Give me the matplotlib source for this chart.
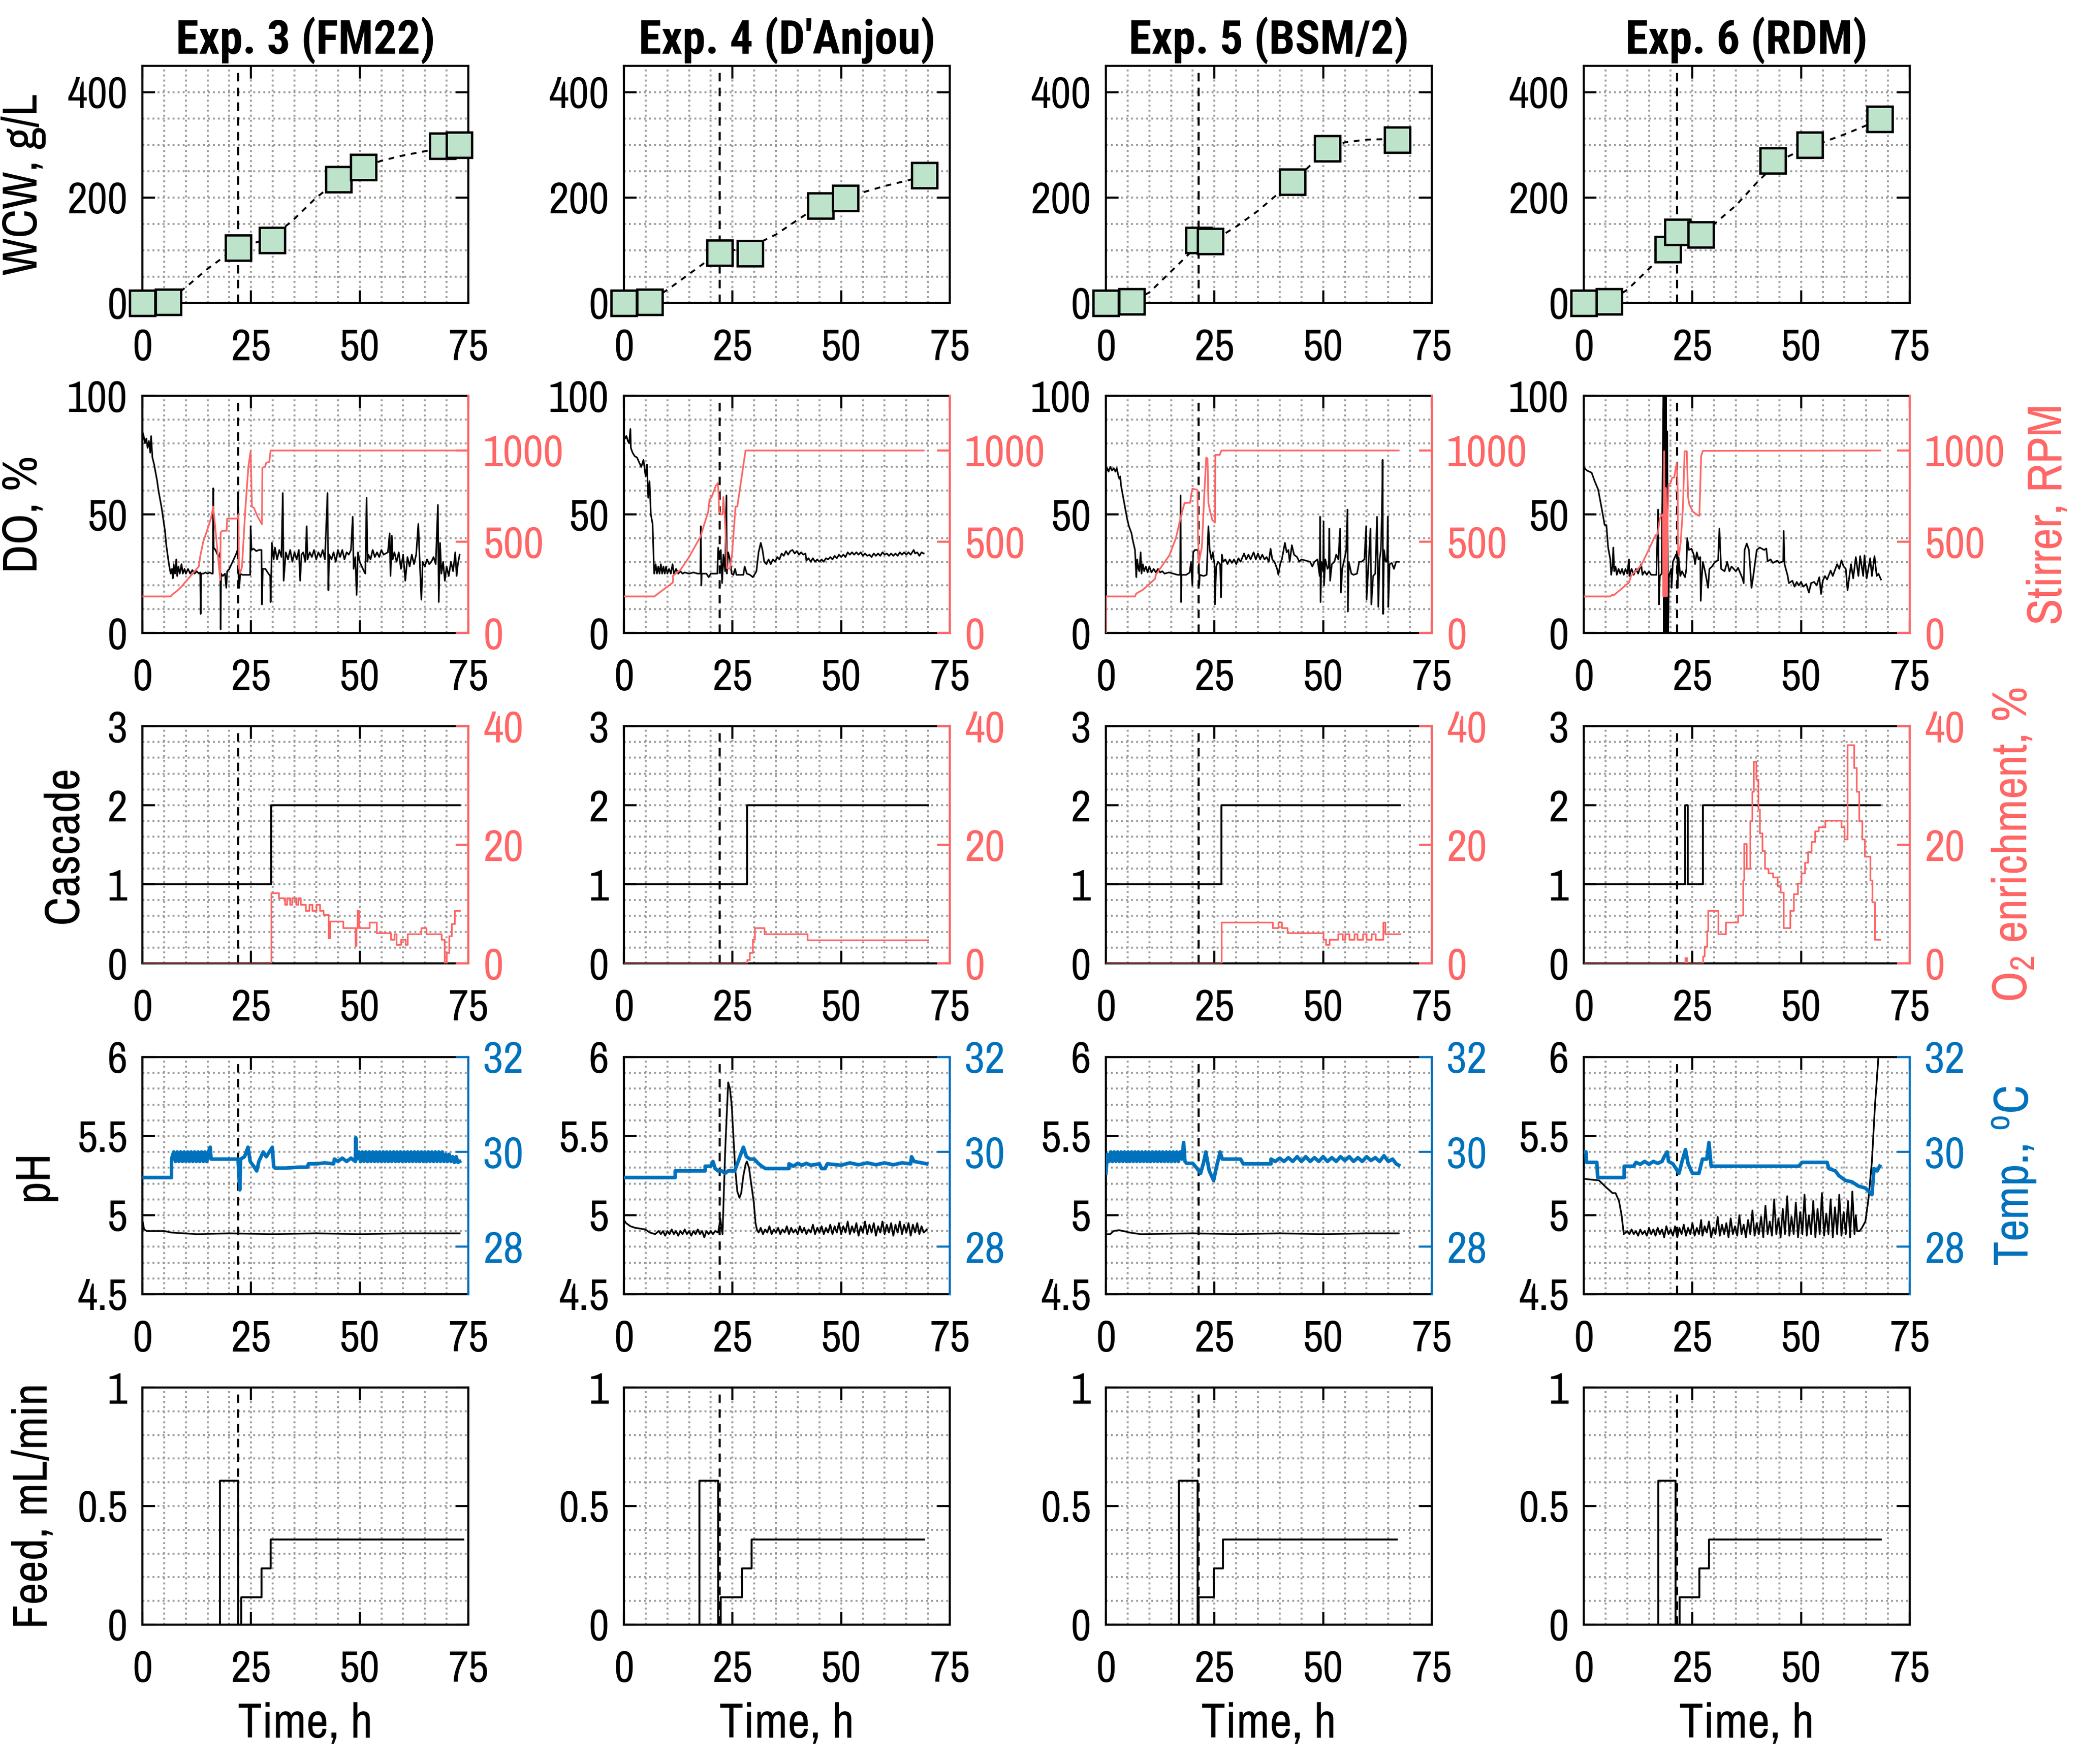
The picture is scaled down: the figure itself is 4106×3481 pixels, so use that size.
import numpy as np
import matplotlib
matplotlib.use("Agg")
import matplotlib.pyplot as plt
from matplotlib import font_manager as fm
from matplotlib.ticker import MultipleLocator

# narrow sans, like the MATLAB export
NARROW = ['Liberation Sans Narrow', 'Arial Narrow', 'Nimbus Sans Narrow', 'Archivo Narrow',
          'Roboto Condensed', 'PT Sans Narrow', 'Pragati Narrow', 'Open Sans Condensed']
_names = set(f.name for f in fm.fontManager.ttflist)


def _bold_ok(name):
    for f in fm.fontManager.ttflist:
        if f.name == name:
            w = f.weight if isinstance(f.weight, int) else {'bold': 700}.get(f.weight, 400)
            if w >= 700:
                return True
    return False


FONT = 'Liberation Sans'
for cand in NARROW:
    if cand in _names:
        FONT = cand
        break
TITLE_FONT = 'Liberation Sans'
for cand in NARROW:
    if cand in _names and _bold_ok(cand):
        TITLE_FONT = cand
        break

plt.rcParams['font.family'] = [FONT, 'DejaVu Sans']
plt.rcParams['mathtext.fontset'] = 'custom'
plt.rcParams['mathtext.rm'] = FONT

RED = "#FF6666"
BLUE = "#0072BD"
GREEN = "#BEE3CB"
GRID = "#9a9a9a"

titles = ["Exp. 3 (FM22)", "Exp. 4 (D'Anjou)", "Exp. 5 (BSM/2)", "Exp. 6 (RDM)"]
induction = [22.1, 22.0, 21.4, 21.5]

# ---- WCW samples (g/L) and fitted curves
wcw3_t = [0, 5.9, 22, 29.9, 45.1, 50.9, 69, 72.9]
wcw3_v = [0, 2, 105, 119, 235, 258, 298, 300]
wcw4_t = [0, 6, 22, 29, 45.2, 51, 69.2]
wcw4_v = [0, 2, 95, 94, 185, 199, 242]
wcw5_t = [0, 6, 21.4, 24, 42.9, 51, 67.1]
wcw5_v = [0, 3, 119, 117, 230, 293, 310]
wcw6_t = [0, 5.8, 19.4, 21.6, 27, 43.5, 52, 68.1]
wcw6_v = [0, 3, 102, 135, 130, 270, 300, 349]

fit3_t = [1.5, 6, 10, 15, 20, 22, 25, 30, 35, 40, 45, 50, 55, 60, 65, 70, 73]
fit3_v = [0, 5, 30, 65, 95, 105, 112, 125, 160, 200, 232, 255, 270, 280, 288, 296, 302]
fit4_t = [1.5, 6, 10, 15, 20, 22, 25, 30, 35, 40, 45, 50, 55, 60, 65, 70]
fit4_v = [0, 5, 25, 55, 85, 95, 100, 110, 130, 158, 185, 198, 210, 222, 232, 243]
fit5_t = [1.5, 6, 10, 15, 20, 22, 25, 30, 35, 40, 45, 50, 55, 60, 65, 67]
fit5_v = [0, 4, 20, 60, 100, 110, 120, 145, 175, 210, 245, 285, 305, 310, 311, 310]
fit6_t = [1.5, 6, 10, 15, 20, 22, 25, 30, 35, 40, 45, 50, 55, 60, 65, 68]
fit6_v = [0, 5, 25, 65, 105, 120, 133, 150, 185, 230, 270, 290, 305, 320, 337, 348]

# ---- DO (%) as (t, value) pairs
do3 = [(0, 85), (0.3, 83), (0.6, 80), (0.9, 82), (1.2, 78), (1.5, 81), (1.8, 76), (2.0, 83), (2.3, 74),
       (2.7, 71), (3.0, 68), (3.4, 64), (3.7, 60), (4.0, 57), (4.4, 53), (4.8, 48), (5.2, 43), (5.5, 37),
       (5.8, 33), (6.1, 29), (6.5, 25), (6.8, 27), (7.0, 23), (7.2, 29), (7.5, 25), (7.8, 31), (8.0, 24),
       (8.3, 28), (8.6, 25), (9.0, 29), (9.3, 25), (9.7, 27), (10.0, 25), (10.5, 27), (11, 25), (11.5, 26.5),
       (12, 25), (12.5, 26), (13, 25), (13.3, 25.5), (13.4, 8), (13.5, 25), (14, 25), (14.5, 25.5), (15, 25),
       (15.5, 25.5), (16, 25), (16.2, 25), (16.3, 61), (16.4, 36), (16.8, 35), (17.3, 33), (17.6, 32),
       (17.9, 34), (18.0, 1.5), (18.1, 25), (18.5, 24), (19, 25), (19.3, 19), (19.5, 26), (20, 27),
       (20.5, 29), (21, 31), (21.5, 33), (21.9, 35), (22.0, 57), (22.1, 24), (22.3, 19), (22.5, 25),
       (23, 24.5), (24, 24.5), (24.8, 24.5), (24.9, 45), (25.1, 35), (25.6, 35.5), (26.2, 34.5), (26.8, 35),
       (27.4, 35), (27.5, 12), (27.7, 27), (28.3, 27), (29, 25), (29.4, 24), (29.5, 13), (29.8, 38),
       (30.2, 31), (30.5, 36), (31, 31), (31.5, 35), (32, 32), (32.3, 59), (32.5, 22), (33, 34), (33.5, 31),
       (34, 35), (34.5, 30), (35, 34), (35.5, 31), (36, 35), (36.3, 22), (36.6, 33), (37, 34), (37.5, 30),
       (37.8, 45), (38, 31), (38.5, 34), (39, 32), (39.5, 35), (40, 31), (40.5, 34), (41, 32), (41.5, 35),
       (42, 31), (42.6, 59), (42.8, 18), (43, 33), (43.5, 31), (44, 34), (44.5, 30), (45, 35), (45.5, 32),
       (46, 35), (46.5, 31), (47, 34), (47.5, 33), (48, 35), (48.4, 49), (48.6, 27), (49, 32), (49.3, 16),
       (49.6, 34), (50, 30), (50.5, 28), (51, 26), (51.3, 25), (51.6, 57), (51.8, 30), (52, 33), (52.5, 31),
       (53, 35), (53.5, 32), (54, 34), (54.5, 32), (55, 35), (55.5, 33), (56.5, 34), (56.9, 42), (57.1, 24),
       (57.4, 41), (57.6, 31), (58, 34), (58.5, 30), (59, 34), (59.5, 27), (60, 33), (60.5, 22), (61, 32),
       (61.5, 28), (62, 33), (62.5, 29), (63, 33), (63.5, 46), (63.8, 31), (64.2, 14), (64.5, 30), (65, 28),
       (65.5, 31), (66, 29), (66.5, 30), (67, 32), (67.5, 29), (68, 54), (68.2, 13), (68.5, 38), (68.8, 25),
       (69.2, 30), (69.6, 22), (70, 28), (70.5, 24), (71, 30), (71.5, 26), (72, 34), (72.3, 24), (72.6, 29),
       (73, 33)]
do4 = [(0, 84), (0.3, 82), (0.6, 83), (0.9, 81), (1.2, 80), (1.5, 86), (1.6, 78), (2, 76), (2.5, 74.5),
       (3, 74), (3.5, 72), (4, 70), (4.5, 73), (5, 66), (5.3, 71), (5.6, 57), (5.9, 64), (6.2, 50),
       (6.6, 46), (6.9, 28), (7.0, 25), (7.3, 29), (7.6, 25), (7.9, 28), (8.2, 25), (8.5, 29), (8.8, 25),
       (9.1, 28), (9.4, 25), (9.7, 28), (10, 25), (10.4, 27), (10.8, 25), (11.2, 29), (11.5, 25), (12, 27),
       (12.5, 25), (13, 26), (13.5, 25), (14, 25.5), (15, 25), (16, 25.5), (17, 25), (17.6, 25), (17.7, 45),
       (17.8, 20), (17.9, 25), (19, 25), (19.5, 23.5), (20, 25), (21, 25), (21.5, 25), (21.7, 36), (22.0, 31),
       (22.3, 35), (22.6, 21), (22.9, 33), (23.3, 26), (23.6, 58), (23.7, 25), (24, 34), (24.4, 31),
       (24.8, 25), (25.2, 24.5), (25.6, 27), (25.9, 24.5), (27.5, 24.5), (27.8, 28), (28.3, 25), (29, 24.5),
       (29.7, 23.5), (30.5, 26), (31.0, 34), (31.5, 38), (31.9, 35), (32.3, 30), (32.8, 29), (33.3, 31),
       (33.8, 29), (34.3, 31), (34.8, 30), (35.3, 32), (35.8, 31), (36.3, 33.5), (36.8, 32.5), (37.3, 34.5),
       (37.8, 33), (38.3, 34.5), (38.8, 35), (39.3, 33.5), (39.8, 34.5), (40.3, 33), (40.8, 34), (41.3, 33),
       (41.8, 33.5), (42, 30.5), (42.5, 31.5), (43, 30), (43.5, 31.5), (44, 30), (44.5, 31), (45, 30),
       (45.5, 31), (46, 30), (46.5, 31.5), (47, 31), (47.5, 32), (48, 31), (48.5, 32.5), (49, 31.5),
       (49.5, 33), (50, 32), (50.5, 33), (51, 32), (51.5, 34), (52, 33), (52.5, 34), (53, 33), (53.5, 34),
       (54, 33), (54.5, 34), (55, 32.5), (55.5, 33.5), (56, 32.5), (56.5, 33), (57, 32), (57.5, 33.5),
       (58, 32.5), (58.5, 33.5), (59, 32.5), (59.5, 34), (60, 33), (60.5, 33.5), (61, 32.5), (61.5, 33.5),
       (62, 32.5), (62.5, 33.5), (63, 32.5), (63.5, 34), (64, 33), (64.5, 34), (65, 33), (65.5, 34),
       (66, 33), (66.7, 35), (67, 33.5), (67.5, 34), (68, 32.5), (68.5, 34), (69, 33.5)]
do5 = [(0, 68), (0.3, 69.5), (0.6, 68), (1, 70), (1.4, 68.5), (1.8, 69.5), (2.2, 68), (2.5, 69.5),
       (2.9, 66), (3.1, 65), (3.3, 66), (3.5, 62), (4, 57), (4.5, 52), (4.9, 48), (5.3, 45), (5.9, 42),
       (6.2, 39), (6.7, 35), (7.0, 23.5), (7.2, 31), (7.5, 27), (7.7, 26), (8, 34), (8.2, 25), (8.5, 29),
       (8.8, 26), (9.2, 28), (9.6, 25.5), (10, 28), (10.5, 25.5), (11, 27), (11.5, 25.5), (12, 27),
       (12.5, 25.5), (13, 26), (13.5, 25), (14.5, 25.5), (15.5, 25), (16.5, 24.5), (17.1, 24.5), (17.2, 58),
       (17.3, 13), (17.4, 24.5), (18.5, 24.5), (19.3, 25.5), (19.6, 30), (19.9, 20), (20.1, 34), (20.5, 35),
       (21.2, 35), (21.4, 30), (21.5, 20), (21.6, 24.5), (22.5, 24), (23.2, 24.5), (23.6, 45), (23.9, 35),
       (24.3, 31), (24.6, 34), (25, 29), (25.1, 12), (25.4, 28), (25.8, 30), (26.3, 29), (26.5, 15),
       (26.7, 33), (27, 30), (27.5, 31), (28, 29), (28.5, 31), (29, 29.5), (29.5, 31), (30, 29), (30.5, 31.5),
       (31, 30), (31.8, 33.5), (32.3, 31), (32.8, 33), (33.3, 31), (34, 34), (34.5, 31), (35, 33.5),
       (35.5, 31), (36, 33), (36.5, 31), (37, 32), (37.5, 30), (37.9, 35.5), (38.3, 31), (38.8, 30),
       (39.4, 27), (39.7, 24.5), (40.1, 29), (40.5, 31), (41.2, 38), (41.6, 34), (42, 35), (42.3, 30),
       (42.8, 37), (43.3, 33), (44, 32), (44.5, 30), (45, 31), (46, 30.5), (47, 30), (47.5, 28), (48, 30),
       (48.7, 31), (49.2, 24), (49.3, 49), (49.4, 13), (49.6, 30), (50, 26), (50.1, 47), (50.2, 20),
       (50.5, 31), (51, 27), (51.3, 28), (51.4, 44), (51.6, 22), (52, 29), (52.6, 30), (53, 33), (53.5, 31),
       (53.9, 44), (54.1, 17), (54.4, 27), (55, 32), (55.3, 35), (55.6, 52), (55.7, 9), (55.9, 30),
       (56.5, 25), (57, 24.5), (57.8, 25), (58.3, 30), (58.8, 30), (59.5, 31), (59.9, 45), (60, 14),
       (60.3, 24), (60.9, 44), (61.1, 12), (61.5, 24), (62, 25), (62.4, 49), (62.7, 11), (63, 31), (63.3, 35),
       (63.5, 49), (63.7, 73), (63.8, 8), (64, 35), (64.4, 30), (64.7, 30), (64.9, 49), (65, 11), (65.3, 29),
       (65.8, 29.5), (66.3, 27), (66.8, 30), (67.4, 30)]
do6 = [(0, 70), (0.4, 69), (0.8, 68.4), (1.3, 68), (1.8, 67.6), (2.5, 64), (3.3, 60.5), (4.1, 52.7),
       (4.8, 45.5), (5.2, 45.5), (5.6, 36), (6.1, 31), (6.3, 24.5), (6.6, 28), (6.8, 36), (7.0, 26),
       (7.3, 28), (7.6, 24.5), (8, 27), (8.4, 25), (8.8, 27), (9.2, 24.5), (9.6, 27), (10, 25), (10.4, 31),
       (10.5, 24), (11, 27), (11.5, 24.5), (12, 27), (12.5, 25), (13.2, 29), (13.5, 24.5), (14, 26),
       (14.5, 24.5), (15, 26), (15.5, 24.5), (16.7, 24.5), (17.1, 52), (17.3, 12), (17.5, 24), (17.9, 25),
       (18.3, 100), (18.4, 0), (18.6, 100), (18.7, 0), (18.9, 100), (19.0, 0), (19.2, 85), (19.4, 0),
       (19.6, 24), (20.1, 27), (20.2, 19), (20.5, 30), (21.2, 33), (21.5, 33), (21.6, 19), (21.8, 32),
       (22.2, 24), (22.6, 26), (23.3, 23.5), (23.6, 27), (23.8, 40), (24.2, 35), (24.8, 35.5), (25.3, 33),
       (25.6, 29), (26, 34), (26.4, 31), (26.8, 32), (26.9, 13.5), (27.1, 22), (27.4, 30), (27.9, 26),
       (28.6, 19), (28.9, 27), (29.5, 28), (30.2, 30), (30.9, 30.6), (31.2, 44), (31.6, 27), (32.4, 26),
       (33, 30), (33.5, 26), (34, 28), (35, 26), (35.5, 27.5), (36.5, 23), (36.8, 21), (37, 35), (37.5, 37.7),
       (38, 35), (38.6, 19), (39.0, 24), (39.8, 35), (40.5, 36), (41.5, 35), (42, 35.6), (42.3, 30.2),
       (43, 31), (43.5, 29.5), (44.5, 30.5), (45, 29.5), (45.9, 30.2), (46, 43), (46.2, 29), (46.9, 24.2),
       (47.2, 21), (48, 22), (48.5, 19.5), (49, 21.5), (49.5, 20), (50, 21.5), (50.5, 19.5), (51.2, 20.6),
       (51.8, 17), (52.3, 21), (53, 21.5), (53.6, 20), (54.2, 23.5), (54.6, 16.4), (55, 22), (55.5, 24),
       (56, 22.5), (56.8, 26.3), (57.3, 24), (58.3, 29), (58.8, 27), (59.3, 30.6), (59.8, 28), (60.3, 27),
       (60.7, 18), (61.2, 25), (61.5, 29), (62, 23), (62.6, 32), (63.2, 24), (63.6, 32.4), (64.3, 24),
       (64.6, 32.7), (65.1, 23), (65.9, 31.5), (66.3, 24), (66.9, 32.4), (67.4, 24), (67.8, 25), (68.4, 22.5)]

# ---- Stirrer (RPM)
rpm3 = [(0, 200), (6.5, 200), (7, 213), (8, 231), (9, 254), (9.8, 277), (11, 310), (13, 365), (13.3, 420),
        (14, 500), (15, 570), (15.8, 630), (16.3, 693), (17.9, 291), (18, 550), (18.4, 560), (19.4, 560),
        (19.5, 627), (21.9, 627), (22.1, 652), (22.2, 360), (22.5, 328), (22.9, 360), (23.7, 684), (24.4, 915),
        (24.9, 996), (25.2, 693), (25.7, 684), (26.5, 638), (27.5, 596), (27.6, 906), (28.2, 910), (28.5, 933),
        (29.2, 938), (29.5, 1000), (73, 1000)]
rpm4 = [(0, 200), (7, 200), (11.3, 277), (11.3, 314), (13, 345), (15, 416), (17.6, 527), (19.4, 665),
        (19.7, 730), (20.2, 745), (21.1, 804), (21.6, 821), (21.8, 760), (21.9, 665), (22.4, 650), (22.7, 650),
        (22.9, 745), (23.3, 600), (23.7, 356), (24.4, 351), (24.9, 434), (25.7, 693), (26.1, 693), (28, 1000),
        (69, 1000)]
rpm5 = [(0, 0), (0, 200), (6.7, 200), (7, 216), (8.5, 236), (10, 268), (11.3, 296), (11.5, 319), (13, 370),
        (14.6, 425), (16.1, 518), (17.4, 652), (18.1, 712), (19.4, 714), (19.6, 749), (19.9, 790), (20.9, 786),
        (21.1, 780), (21.2, 536), (21.4, 384), (21.8, 434), (22.1, 471), (22.7, 786), (23.1, 962), (23.4, 955),
        (23.6, 712), (24, 665), (24.5, 619), (25.1, 605), (25.2, 976), (26.2, 976), (26.6, 1000), (67.4, 1000)]
rpm6 = [(0, 200), (6.1, 200), (6.6, 210), (6.8, 205), (8.6, 240), (10.4, 277), (10.9, 314), (13.2, 370),
        (14.7, 444), (16.5, 536), (17, 540), (17.5, 628), (18, 648), (18.2, 650), (18.3, 200), (18.5, 996),
        (18.7, 200), (18.9, 795), (19.1, 200), (19.3, 648), (19.5, 813), (20, 822), (20.3, 850), (20.8, 852),
        (21.4, 933), (21.6, 777), (21.7, 443), (21.9, 425), (22.3, 499), (22.8, 684), (23.2, 996), (23.7, 996),
        (24, 744), (24.3, 702), (25.1, 665), (26.1, 647), (26.6, 642), (27, 970), (27.4, 998), (68.3, 1000)]

# ---- Cascade mode
casc3_t = [0, 29.6, 29.6, 73]
casc3_v = [1, 1, 2, 2]
casc4_t = [0, 28.3, 28.3, 70]
casc4_v = [1, 1, 2, 2]
casc5_t = [0, 26.6, 26.6, 67.6]
casc5_v = [1, 1, 2, 2]
casc6_t = [0, 23.3, 23.3, 23.9, 23.9, 27.4, 27.4, 68.1]
casc6_v = [1, 1, 2, 2, 1, 1, 2, 2]

# ---- O2 enrichment (%), step changes
o2_3 = [(0, 0), (29.6, 11.9), (31.4, 11), (32.8, 9.9), (33.2, 11), (34, 9.9), (34.4, 11), (35.4, 9.9),
        (35.8, 11), (36.4, 9.9), (37.6, 8.9), (38.4, 9.9), (39.1, 8.9), (40, 9.9), (40.8, 8.9), (41.6, 8.2),
        (42.8, 4.3), (43.1, 7.1), (46.2, 6), (49, 3), (49.2, 6), (49.5, 8.9), (49.8, 6), (52.2, 6.9),
        (53.9, 5.1), (57.1, 4), (58, 5.0), (58.4, 3.2), (59.5, 4), (60.5, 3.2), (61, 5), (64.2, 6), (65.3, 5),
        (68.8, 4), (69.5, 0), (70.0, 1.8), (70.6, 4.6), (71.2, 6.7), (71.9, 8.9), (73, 8.9)]
o2_4 = [(0, 0), (28.3, 0.6), (28.9, 1.8), (29.6, 4), (30.1, 6), (32.3, 5), (42.2, 3.9), (70, 3.9)]
o2_5 = [(0, 0), (26.6, 6.9), (38.4, 6), (39.6, 6.9), (40.5, 6), (41.8, 5.1), (50, 4), (50.6, 3.2),
        (51.4, 4), (53.4, 5), (54.5, 4), (55, 5), (56, 4), (57.2, 5), (57.9, 4), (59.1, 5), (60, 4),
        (61.1, 5), (62, 4), (63.8, 6.9), (64.3, 5), (67.6, 5)]
o2_6 = [(0, 0), (23.3, 0.9), (23.7, 0), (27.4, 1.2), (27.8, 2.8), (28.3, 5.5), (28.6, 8.9), (30.9, 5),
        (32.7, 6.9), (35.5, 8.1), (36.6, 14), (36.9, 20.2), (37.4, 16), (38.2, 24), (38.7, 29), (39.1, 34),
        (39.7, 31), (40.1, 26), (40.5, 22), (41, 19), (41.6, 16), (42.5, 15.2), (43.5, 14.5), (44.5, 13.1),
        (45.3, 12), (46, 6), (47.5, 8.9), (48.3, 11.7), (49.2, 13.5), (50, 15.2), (50.8, 17), (51.6, 18.8),
        (52.4, 20.5), (53.2, 22.3), (54, 23), (55.5, 24.1), (59.2, 23), (60, 20.9), (60.6, 36.8), (62.2, 33),
        (62.7, 29), (63.3, 24), (64, 20.9), (64.6, 18), (65.9, 14), (66.4, 10.3), (67, 4), (68.1, 4)]

# ---- pH
ph3 = [(0, 4.97), (0.4, 4.91), (1, 4.9), (5, 4.9), (6.7, 4.89), (12.6, 4.88), (20, 4.885), (30, 4.88),
       (40, 4.885), (50, 4.88), (60, 4.885), (73, 4.885)]
ph4 = [(0, 4.97), (0.5, 4.95), (1.5, 4.93), (2.6, 4.92), (4.9, 4.91), (6, 4.89), (7.2, 4.88), (8, 4.9),
       (8.5, 4.88), (9, 4.9), (9.5, 4.87), (10, 4.9), (10.5, 4.88), (11, 4.91), (11.5, 4.88), (12, 4.9),
       (12.5, 4.87), (13, 4.9), (13.5, 4.88), (14, 4.91), (14.5, 4.88), (15, 4.9), (15.5, 4.87), (16, 4.9),
       (16.5, 4.88), (17, 4.91), (17.5, 4.88), (18, 4.9), (18.5, 4.86), (19, 4.9), (19.5, 4.88), (20, 4.9),
       (20.5, 4.88), (21, 4.9), (21.7, 4.89), (22.2, 4.98), (22.4, 4.93), (22.7, 4.88), (23.3, 5.4),
       (24, 5.84), (24.4, 5.8), (24.8, 5.7), (25.2, 5.5), (25.6, 5.3), (26.1, 5.15), (26.6, 5.11), (27, 5.14),
       (27.5, 5.25), (28, 5.32), (28.3, 5.34), (28.8, 5.3), (29.3, 5.2), (29.9, 5.08), (30.3, 4.95),
       (30.6, 4.91), (31, 4.89), (31.5, 4.92), (32, 4.88), (32.5, 4.91), (33, 4.89), (33.5, 4.93), (34, 4.88),
       (34.5, 4.91), (35, 4.89), (35.5, 4.92), (36, 4.88), (36.5, 4.91), (37, 4.89), (37.5, 4.93), (38, 4.88),
       (38.5, 4.92), (39, 4.89), (39.5, 4.91), (40, 4.88), (40.5, 4.93), (41, 4.89), (41.5, 4.92), (42, 4.88),
       (42.5, 4.91), (43, 4.89), (43.5, 4.94), (44, 4.88), (44.5, 4.92), (45, 4.89), (45.5, 4.93), (46, 4.88),
       (46.5, 4.92), (47, 4.89), (47.5, 4.94), (48, 4.88), (48.5, 4.93), (49, 4.89), (49.5, 4.95), (50, 4.88),
       (50.5, 4.93), (51, 4.89), (51.5, 4.96), (52, 4.88), (52.5, 4.93), (53, 4.89), (53.5, 4.95), (54, 4.87),
       (54.5, 4.93), (55, 4.89), (55.5, 4.96), (56, 4.88), (56.5, 4.94), (57, 4.89), (57.5, 4.95), (58, 4.87),
       (58.5, 4.93), (59, 4.89), (59.5, 4.96), (60, 4.88), (60.5, 4.94), (61, 4.89), (61.5, 4.95), (62, 4.87),
       (62.5, 4.94), (63, 4.89), (63.5, 4.96), (64, 4.88), (64.5, 4.94), (65, 4.89), (65.5, 4.95), (66, 4.87),
       (66.5, 4.94), (67, 4.89), (67.5, 4.95), (68, 4.88), (68.5, 4.93), (69, 4.89), (69.7, 4.91)]
ph5 = [(0, 4.88), (1, 4.88), (1.8, 4.9), (3, 4.905), (4, 4.9), (5.5, 4.89), (8, 4.88), (20, 4.885),
       (30, 4.88), (40, 4.885), (50, 4.88), (60, 4.885), (67.4, 4.885)]
ph6 = [(0, 5.23), (3.5, 5.22), (5, 5.18), (6.6, 5.14), (7.3, 5.14), (8.1, 5.09), (8.7, 5.0), (9.2, 4.88),
       (10, 4.9), (10.5, 4.88), (11, 4.91), (11.5, 4.88), (12, 4.9), (12.5, 4.87), (13, 4.91), (13.5, 4.88),
       (14, 4.9), (14.5, 4.87), (15, 4.92), (15.5, 4.88), (16, 4.91), (16.5, 4.87), (17, 4.92), (17.5, 4.88),
       (18, 4.91), (18.5, 4.86), (19, 4.93), (19.5, 4.88), (20, 4.91), (20.5, 4.87), (21, 4.93), (21.5, 4.86),
       (22, 4.92), (22.5, 4.88), (23, 4.94), (23.5, 4.87), (24, 4.92), (24.5, 4.88), (25, 4.95), (25.5, 4.87),
       (26, 4.92), (26.5, 4.88), (27, 4.97), (27.3, 4.87), (27.8, 4.93), (28.3, 4.89), (28.8, 4.96),
       (29.3, 4.86), (29.8, 4.92), (30.3, 4.88), (30.8, 4.99), (31.3, 4.87), (31.8, 4.94), (32.3, 4.88),
       (32.8, 4.95), (33.3, 4.86), (33.8, 4.98), (34.3, 4.88), (34.8, 4.93), (35.3, 4.87), (35.8, 5.0),
       (36.3, 4.88), (36.8, 4.94), (37.3, 4.86), (37.8, 4.97), (38.3, 4.88), (38.8, 5.03), (39.3, 4.87),
       (39.8, 4.95), (40.3, 4.88), (40.8, 4.99), (41.3, 4.86), (41.8, 5.06), (42.3, 4.88), (42.8, 4.96),
       (43.3, 4.87), (43.8, 5.1), (44.3, 4.88), (44.8, 4.98), (45.3, 4.86), (45.8, 5.04), (46.3, 4.88),
       (46.8, 5.12), (47.3, 4.87), (47.8, 4.99), (48.3, 4.88), (48.8, 5.08), (49.3, 4.86), (49.8, 5.02),
       (50.3, 4.88), (50.8, 5.13), (51.3, 4.87), (51.8, 5.0), (52.3, 4.88), (52.8, 5.09), (53.3, 4.86),
       (53.8, 5.04), (54.3, 4.88), (54.8, 5.14), (55.3, 4.87), (55.8, 5.01), (56.3, 4.88), (56.8, 5.1),
       (57.3, 4.86), (57.8, 5.05), (58.3, 4.88), (58.8, 5.13), (59.3, 4.87), (59.8, 5.02), (60.3, 4.88),
       (60.8, 5.09), (61.3, 4.86), (61.8, 5.15), (62.3, 4.88), (62.6, 5.0), (62.9, 4.9), (63.5, 4.9),
       (64, 4.92), (64.8, 4.96), (65.5, 5.1), (66.3, 5.34), (67, 5.69), (67.8, 6.0), (68.3, 6.3)]

# ---- Temperature (degC)
temp3 = [(0, 29.46), (6.7, 29.46), (6.7, 29.85), (7.2, 30), (7.6, 29.8), (8, 30), (8.4, 29.8), (8.8, 30),
         (9.2, 29.8), (9.6, 30), (10, 29.8), (10.4, 30), (10.8, 29.8), (11.2, 30), (11.6, 29.8), (12, 30),
         (12.4, 29.8), (12.8, 30), (13.2, 29.8), (13.6, 30), (14, 29.8), (14.4, 30), (14.8, 29.8), (15.2, 30),
         (15.6, 30.1), (15.8, 29.85), (18, 29.85), (22, 29.85), (22.4, 29.2), (22.6, 29.85), (23.5, 29.9),
         (24.3, 30.1), (24.8, 29.8), (25.6, 29.7), (26.3, 29.6), (26.8, 29.8), (27.8, 30), (28.5, 29.9),
         (29.9, 30.1), (30.2, 29.7), (30.5, 29.66), (33, 29.66), (36, 29.68), (38, 29.68), (38.2, 29.75),
         (40, 29.75), (42, 29.77), (44, 29.75), (44.2, 29.85), (45, 29.8), (46, 29.87), (47, 29.8),
         (48, 29.87), (49, 29.8), (49.1, 30.3), (49.3, 29.85), (49.8, 30), (50.2, 29.8),
         (50.6, 30), (51, 29.8), (51.4, 30), (51.8, 29.8), (52.2, 30), (52.6, 29.8), (53, 30), (53.4, 29.8),
         (53.8, 30), (54.2, 29.8), (54.6, 30), (55, 29.8), (55.4, 30), (55.8, 29.8), (56.2, 30), (56.6, 29.8),
         (57, 30), (57.4, 29.8), (57.8, 30), (58.2, 29.8), (58.6, 30), (59, 29.8), (59.4, 30), (59.8, 29.8),
         (60.2, 30), (60.6, 29.8), (61, 30), (61.4, 29.8), (61.8, 30), (62.2, 29.8), (62.6, 30), (63, 29.8),
         (63.4, 30), (63.8, 29.8), (64.2, 30), (64.6, 29.8), (65, 30), (65.4, 29.8), (65.8, 30), (66.2, 29.8),
         (66.6, 30), (67, 29.8), (67.4, 30), (67.8, 29.8), (68.2, 30), (68.6, 29.8), (69, 30), (69.4, 29.8),
         (69.8, 29.95), (70.2, 29.8), (70.6, 29.95), (71, 29.8), (71.4, 29.9), (71.8, 29.78), (72.2, 29.9),
         (72.6, 29.78), (73, 29.8)]
temp4 = [(0, 29.46), (11.8, 29.46), (11.8, 29.6), (18.7, 29.6), (18.7, 29.7), (20, 29.7), (20.5, 29.8),
         (21, 29.65), (21.7, 29.6), (22.5, 29.6), (23.3, 29.55), (24, 29.6), (25.5, 29.6), (26.3, 29.8),
         (27.1, 30), (27.5, 30.1), (28.2, 29.9), (29, 29.85), (30, 29.85), (30.9, 29.76), (31.7, 29.7),
         (32.6, 29.65), (38, 29.65), (38, 29.75), (39, 29.7), (40, 29.76), (41, 29.72), (42, 29.76),
         (43, 29.72), (45, 29.75), (45.5, 29.65), (46.3, 29.65), (46.8, 29.75), (50, 29.72), (52, 29.77),
         (54, 29.73), (56, 29.77), (58, 29.73), (60, 29.77), (62, 29.73), (64, 29.77), (66, 29.75),
         (66.2, 29.9), (66.8, 29.8), (69.7, 29.75)]
temp5 = [(0, 29.55), (0.3, 29.95), (0.7, 29.8), (1.1, 30), (1.5, 29.8), (1.9, 30), (2.3, 29.8), (2.7, 30),
         (3.1, 29.8), (3.5, 30), (3.9, 29.8), (4.3, 30), (4.7, 29.8), (5.1, 30), (5.5, 29.8), (5.9, 30),
         (6.3, 29.8), (6.7, 30), (7.1, 29.8), (7.5, 30), (7.9, 29.8), (8.3, 30), (8.7, 29.8), (9.1, 30),
         (9.5, 29.8), (9.9, 30), (10.3, 29.8), (10.7, 30), (11.1, 29.8), (11.5, 30), (11.9, 29.8), (12.3, 30),
         (12.7, 29.8), (13.1, 30), (13.5, 29.8), (13.9, 30), (14.3, 29.8), (14.7, 30), (15.1, 29.8), (15.5, 30),
         (15.9, 29.8), (16.3, 30), (16.7, 29.8), (17.1, 30), (17.5, 29.85), (17.9, 30.2), (18.2, 29.8),
         (18.6, 29.76), (20, 29.76), (21, 29.65), (21.8, 29.55), (22.5, 29.78), (23, 30), (23.8, 29.6),
         (24.8, 29.4), (25.5, 29.7), (26.3, 30), (26.8, 29.85), (31, 29.85), (31.6, 29.75), (38, 29.75),
         (38, 29.85), (39, 29.8), (40, 29.87), (41, 29.8), (42, 29.88), (43, 29.8), (44, 29.9), (45, 29.8),
         (46, 29.9), (47, 29.8), (48, 29.88), (49, 29.8), (50, 29.9), (51, 29.8), (52, 29.88), (53, 29.8),
         (54, 29.9), (55, 29.82), (56, 29.9), (57, 29.8), (58, 29.88), (59, 29.8), (60, 29.9), (61, 29.82),
         (62, 29.88), (63, 29.8), (64, 29.92), (65, 29.8), (66, 29.85), (66.8, 29.75), (67.4, 29.72)]
temp6 = [(0, 30), (0.5, 30), (0.6, 29.78), (3, 29.78), (3.2, 29.46), (9.3, 29.46), (9.3, 29.7), (11.5, 29.7),
         (12, 29.78), (13, 29.74), (14, 29.8), (15, 29.74), (16, 29.8), (17, 29.76), (18, 29.8), (18.5, 29.9),
         (19.2, 30), (19.5, 29.8), (20.5, 29.75), (21.9, 29.55), (22.6, 29.8), (23.4, 30.05), (24, 29.75),
         (25, 29.55), (26.5, 29.55), (27.3, 29.85), (28.3, 29.85), (28.8, 30.2), (29.3, 29.7), (35, 29.7),
         (40, 29.7), (45, 29.7), (49.5, 29.7), (50.2, 29.78), (56, 29.78), (56.4, 29.65), (57.9, 29.6),
         (58.7, 29.5), (60.2, 29.4), (61.7, 29.37), (63.2, 29.28), (64.8, 29.24), (66.3, 29.1), (66.8, 29.65),
         (67.5, 29.6), (68.1, 29.7)]

# ---- Feed (mL/min)
feed3_t = [0, 17.8, 17.8, 22.1, 22.1, 22.7, 22.7, 27.4, 27.4, 29.5, 29.5, 73.8]
feed3_v = [0, 0, 0.607, 0.607, 0, 0, 0.115, 0.115, 0.238, 0.238, 0.36, 0.36]
feed4_t = [0, 17.4, 17.4, 21.7, 21.7, 22.3, 22.3, 27.2, 27.2, 29.4, 29.4, 69.1]
feed4_v = [0, 0, 0.607, 0.607, 0, 0, 0.115, 0.115, 0.238, 0.238, 0.36, 0.36]
feed5_t = [0, 16.8, 16.8, 21.1, 21.1, 21.4, 21.4, 24.8, 24.8, 26.9, 26.9, 67.0]
feed5_v = [0, 0, 0.607, 0.607, 0, 0, 0.115, 0.115, 0.238, 0.238, 0.36, 0.36]
feed6_t = [0, 17.1, 17.1, 21.1, 21.1, 22.0, 22.0, 26.6, 26.6, 28.8, 28.8, 68.3]
feed6_v = [0, 0, 0.607, 0.607, 0, 0, 0.115, 0.115, 0.238, 0.238, 0.36, 0.36]

wcw_t = [wcw3_t, wcw4_t, wcw5_t, wcw6_t]
wcw_v = [wcw3_v, wcw4_v, wcw5_v, wcw6_v]
fit_t = [fit3_t, fit4_t, fit5_t, fit6_t]
fit_v = [fit3_v, fit4_v, fit5_v, fit6_v]
do_all = [do3, do4, do5, do6]
rpm_all = [rpm3, rpm4, rpm5, rpm6]
casc_t = [casc3_t, casc4_t, casc5_t, casc6_t]
casc_v = [casc3_v, casc4_v, casc5_v, casc6_v]
o2_all = [o2_3, o2_4, o2_5, o2_6]
ph_all = [ph3, ph4, ph5, ph6]
temp_all = [temp3, temp4, temp5, temp6]
feed_t = [feed3_t, feed4_t, feed5_t, feed6_t]
feed_v = [feed3_v, feed4_v, feed5_v, feed6_v]

TICK_FS = 21
LABEL_FS = 23
W, H = 4106, 3481
fig = plt.figure(figsize=(W / 300, H / 300), dpi=300)

col_left = [281, 1231, 2182, 3125]
row_top = [130, 781, 1433, 2086, 2738]
AX_W, AX_H = 643, 468


def add_ax(r, c):
    return fig.add_axes([col_left[c] / W, 1 - (row_top[r] + AX_H) / H, AX_W / W, AX_H / H])


def style(ax, ylim, yticks, yminor, right=True):
    ax.set_xlim(0, 75)
    ax.set_xticks([0, 25, 50, 75])
    ax.xaxis.set_minor_locator(MultipleLocator(5))
    ax.set_ylim(*ylim)
    ax.set_yticks(yticks)
    ax.yaxis.set_minor_locator(MultipleLocator(yminor))
    ax.grid(which='both', linestyle=':', color=GRID, linewidth=0.9)
    ax.set_axisbelow(True)
    ax.tick_params(which='major', direction='in', length=6, width=1, top=True, right=right,
                   labelsize=TICK_FS)
    ax.tick_params(axis='x', pad=12)
    ax.tick_params(axis='y', pad=7)
    ax.tick_params(which='minor', length=0)
    for s in ax.spines.values():
        s.set_linewidth(1.0)
    if not right:
        ax.spines['right'].set_visible(False)


def twin(ax, color, ylim, yticks):
    ax2 = ax.twinx()
    ax2.set_ylim(*ylim)
    ax2.set_yticks(yticks)
    ax2.tick_params(axis='y', direction='in', length=6, width=1, colors=color, labelsize=TICK_FS, pad=7)
    ax2.spines['right'].set_color(color)
    ax2.spines['right'].set_linewidth(1.0)
    ax2.spines['left'].set_visible(False)
    ax2.spines['top'].set_visible(False)
    ax2.spines['bottom'].set_visible(False)
    return ax2


def vline(ax, c):
    ax.axvline(induction[c], color='black', linestyle=(0, (4, 3)), linewidth=1.0, zorder=5)


for c in range(4):
    # WCW
    ax = add_ax(0, c)
    style(ax, (0, 450), [0, 200, 400], 50)
    vline(ax, c)
    ax.plot(fit_t[c], fit_v[c], color='black', linestyle=(0, (3, 3)), linewidth=0.9)
    ax.plot(wcw_t[c], wcw_v[c], linestyle='none', marker='s', markersize=12, markerfacecolor=GREEN,
            markeredgecolor='black', markeredgewidth=1.1, clip_on=False, zorder=6)
    ax.set_title(titles[c], fontsize=22, fontweight='bold', pad=6,
                 fontfamily=[TITLE_FONT, 'DejaVu Sans'])
    if c == 0:
        ax.set_ylabel('WCW, g/L', fontsize=LABEL_FS, labelpad=10)

    # DO + stirrer
    ax = add_ax(1, c)
    style(ax, (0, 100), [0, 50, 100], 10, right=False)
    vline(ax, c)
    ax2 = twin(ax, RED, (0, 1300), [0, 500, 1000])
    t, v = np.array(rpm_all[c]).T
    ax2.plot(t, v, color=RED, linewidth=0.8)
    t, v = np.array(do_all[c]).T
    ax.plot(t, v, color='black', linewidth=0.75, zorder=3)
    if c == 0:
        ax.set_ylabel('DO, %', fontsize=LABEL_FS, labelpad=10)
    if c == 3:
        ax2.set_ylabel('Stirrer, RPM', fontsize=LABEL_FS, color=RED, labelpad=10)

    # Cascade + O2 enrichment
    ax = add_ax(2, c)
    style(ax, (0, 3), [0, 1, 2, 3], 0.2, right=False)
    vline(ax, c)
    ax2 = twin(ax, RED, (0, 40), [0, 20, 40])
    t, v = np.array(o2_all[c]).T
    ax2.plot(t, v, color=RED, linewidth=0.8, drawstyle='steps-post')
    ax.plot(casc_t[c], casc_v[c], color='black', linewidth=0.9)
    if c == 0:
        ax.set_ylabel('Cascade', fontsize=LABEL_FS, labelpad=10)
    if c == 3:
        ax2.set_ylabel(r'O$_\mathregular{2}$ enrichment, %', fontsize=LABEL_FS, color=RED, labelpad=12)

    # pH + temperature
    ax = add_ax(3, c)
    style(ax, (4.5, 6), [4.5, 5, 5.5, 6], 0.1, right=False)
    ax.set_yticklabels(['4.5', '5', '5.5', '6'])
    vline(ax, c)
    ax2 = twin(ax, BLUE, (27, 32), [28, 30, 32])
    t, v = np.array(temp_all[c]).T
    ax2.plot(t, v, color=BLUE, linewidth=1.7)
    t, v = np.array(ph_all[c]).T
    ax.plot(t, v, color='black', linewidth=0.8)
    if c == 0:
        ax.set_ylabel('pH', fontsize=LABEL_FS, labelpad=10)
    if c == 3:
        ax2.set_ylabel(r'Temp., $^\mathregular{o}$C', fontsize=LABEL_FS, color=BLUE, labelpad=12)

    # Feed
    ax = add_ax(4, c)
    style(ax, (0, 1), [0, 0.5, 1], 0.1)
    ax.set_yticklabels(['0', '0.5', '1'])
    vline(ax, c)
    ax.plot(feed_t[c], feed_v[c], color='black', linewidth=0.9)
    ax.set_xlabel('Time, h', fontsize=LABEL_FS, labelpad=6)
    if c == 0:
        ax.set_ylabel('Feed, mL/min', fontsize=LABEL_FS, labelpad=10)

fig.savefig('out.png', dpi=300)
